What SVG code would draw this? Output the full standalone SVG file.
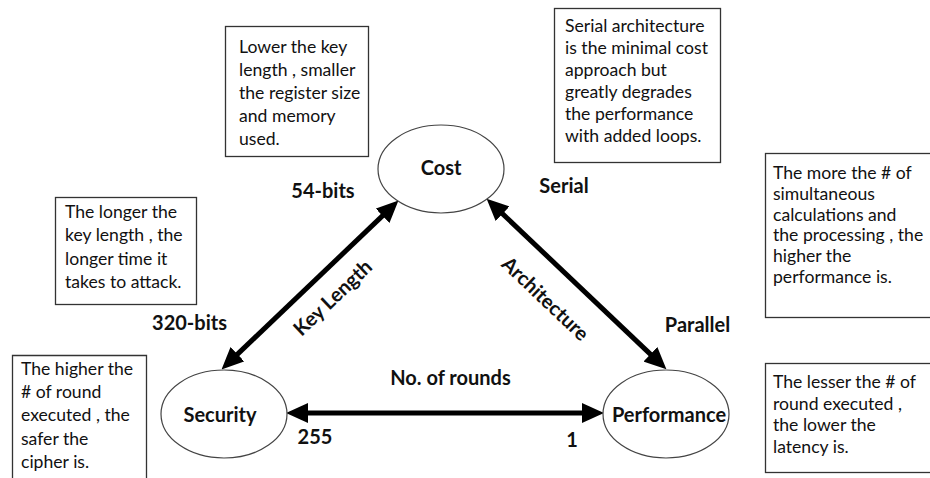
<svg xmlns="http://www.w3.org/2000/svg" width="930" height="478" viewBox="0 0 930 478">
<style>
.box{fill:#fff;stroke:#333;stroke-width:1.3}
.note{font-family:Lato,"Liberation Sans",sans-serif;font-size:17.6px;fill:#111}
.lbl{font-family:Lato,"Liberation Sans",sans-serif;font-size:20px;font-weight:bold;fill:#111}
.node{fill:#fff;stroke:#444;stroke-width:1.2}
.conn{stroke:#000;stroke-width:5;fill:none;marker-start:url(#ah);marker-end:url(#ah)}
</style>
<defs>
<marker id="ah" markerUnits="userSpaceOnUse" markerWidth="22" markerHeight="20" refX="2" refY="10" orient="auto-start-reverse" viewBox="0 0 22 20">
<path d="M0,0 L22,10 L0,20 z" fill="#000"/>
</marker>
</defs>
<rect width="930" height="478" fill="#fff"/>

<g id="note-keylen">
<rect class="box" x="225.5" y="26.5" width="143" height="130"/>
<text class="note"><tspan x="239" y="53">Lower the key</tspan><tspan x="239" y="76">length , smaller</tspan><tspan x="239" y="99">the register size</tspan><tspan x="239" y="122">and memory</tspan><tspan x="239" y="145">used.</tspan></text>
</g>
<g id="note-serial">
<rect class="box" x="554.5" y="8.5" width="166" height="154"/>
<text class="note"><tspan x="565" y="32">Serial architecture</tspan><tspan x="565" y="54">is the minimal cost</tspan><tspan x="565" y="76">approach but</tspan><tspan x="565" y="98">greatly degrades</tspan><tspan x="565" y="120">the performance</tspan><tspan x="565" y="142">with added loops.</tspan></text>
</g>
<g id="note-parallel">
<rect class="box" x="765.5" y="153.5" width="166" height="164"/>
<text class="note"><tspan x="773" y="179">The more the # of</tspan><tspan x="773" y="200">simultaneous</tspan><tspan x="773" y="221">calculations and</tspan><tspan x="773" y="241">the processing , the</tspan><tspan x="773" y="262">higher the</tspan><tspan x="773" y="283">performance is.</tspan></text>
</g>
<g id="note-latency">
<rect class="box" x="765.5" y="363.5" width="166" height="109"/>
<text class="note"><tspan x="773" y="388">The lesser the # of</tspan><tspan x="773" y="410">round executed ,</tspan><tspan x="773" y="431">the lower the</tspan><tspan x="773" y="453">latency is.</tspan></text>
</g>
<g id="note-attack">
<rect class="box" x="55.5" y="197.5" width="141" height="107"/>
<text class="note"><tspan x="65" y="218">The longer the</tspan><tspan x="65" y="241">key length , the</tspan><tspan x="65" y="265">longer time it</tspan><tspan x="65" y="288">takes to attack.</tspan></text>
</g>
<g id="note-rounds">
<path class="box" d="M12.5,480 V355.5 H146.5 V480"/>
<text class="note"><tspan x="21" y="375">The higher the</tspan><tspan x="21" y="398">&#35; of round</tspan><tspan x="21" y="421">executed , the</tspan><tspan x="21" y="445">safer the</tspan><tspan x="21" y="468">cipher is.</tspan></text>
</g>

<g id="connectors">
<line class="conn" x1="236" y1="355.6" x2="384" y2="214.4"/>
<line class="conn" x1="501.1" y1="212.4" x2="651.9" y2="355.6"/>
<line class="conn" x1="306" y1="413" x2="584" y2="413"/>
<text class="lbl" text-anchor="middle" dominant-baseline="central" transform="translate(332,297) rotate(-43.6)">Key Length</text>
<text class="lbl" text-anchor="middle" dominant-baseline="central" transform="translate(546,298) rotate(43.5)">Architecture</text>
<text class="lbl" x="450.5" y="385" text-anchor="middle">No. of rounds</text>
<text class="lbl" x="323" y="198" text-anchor="middle">54-bits</text>
<text class="lbl" x="564" y="193" text-anchor="middle">Serial</text>
<text class="lbl" x="189.5" y="330" text-anchor="middle">320-bits</text>
<text class="lbl" x="697.5" y="332" text-anchor="middle">Parallel</text>
<text class="lbl" x="315" y="444" text-anchor="middle">255</text>
<text class="lbl" x="572" y="447" text-anchor="middle">1</text>
</g>

<g id="cost">
<ellipse class="node" cx="441" cy="169" rx="63" ry="44"/>
<text class="lbl" x="441" y="175" text-anchor="middle">Cost</text>
</g>
<g id="security">
<ellipse class="node" cx="224" cy="414" rx="63" ry="44"/>
<text class="lbl" x="220" y="422" text-anchor="middle">Security</text>
</g>
<g id="performance">
<ellipse class="node" cx="666" cy="414" rx="63" ry="44"/>
<text class="lbl" x="669" y="422" text-anchor="middle">Performance</text>
</g>
</svg>
